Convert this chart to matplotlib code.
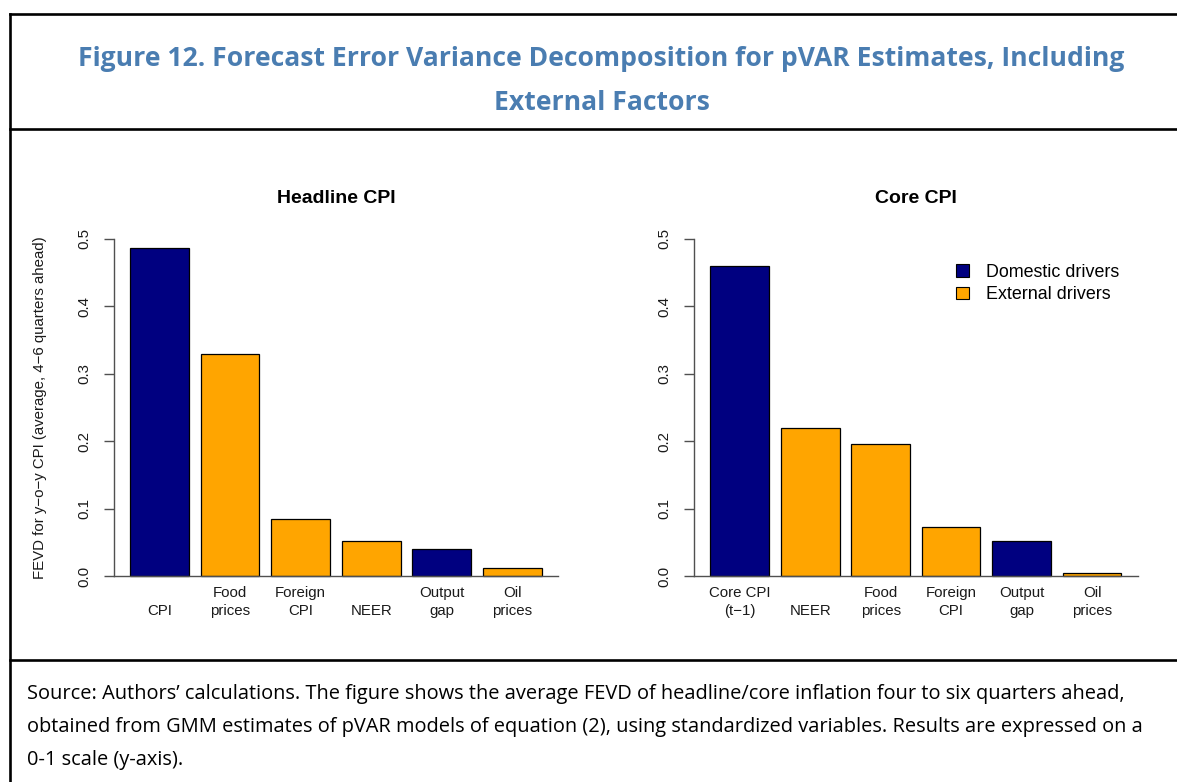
import matplotlib
matplotlib.use("Agg")
import matplotlib.pyplot as plt
from matplotlib.lines import Line2D
from matplotlib.patches import Patch

# data
headline_labels = ["CPI", "Food\nprices", "Foreign\nCPI", "NEER", "Output\ngap", "Oil\nprices"]
headline_values = [0.486, 0.330, 0.084, 0.052, 0.040, 0.012]
headline_domestic = [True, False, False, False, True, False]

core_labels = ["Core CPI\n(t\u22121)", "NEER", "Food\nprices", "Foreign\nCPI", "Output\ngap", "Oil\nprices"]
core_values = [0.460, 0.219, 0.196, 0.072, 0.052, 0.004]
core_domestic = [True, False, False, False, True, False]

yticks = [0.0, 0.1, 0.2, 0.3, 0.4, 0.5]

DOMESTIC = "#000080"
EXTERNAL = "#FFA500"
AXIS_COLOR = "#505050"
TEXT_COLOR = "#1a1a1a"
W, H = 1177, 782

fig = plt.figure(figsize=(W / 100, H / 100), dpi=100)
fig.patch.set_facecolor("white")


def px_box(x0, y0, x1, y1):
    # pixel box (from top-left) -> figure fraction rect
    return [x0 / W, 1 - y1 / H, (x1 - x0) / W, (y1 - y0) / H]


def draw_panel(ax, labels, values, domestic, title):
    centers = [0.7 + 1.2 * i for i in range(len(values))]
    colors = [DOMESTIC if d else EXTERNAL for d in domestic]
    ax.bar(centers, values, width=1.0, color=colors, edgecolor="black", linewidth=0.9, zorder=2)
    ax.set_xlim(-0.08, 7.48)
    ax.set_ylim(-0.02, 0.52)

    for s in ["top", "right"]:
        ax.spines[s].set_visible(False)
    ax.spines["left"].set_bounds(0, 0.5)
    ax.spines["left"].set_color(AXIS_COLOR)
    ax.spines["bottom"].set_position(("data", 0))
    ax.spines["bottom"].set_color(AXIS_COLOR)
    ax.spines["left"].set_linewidth(1.0)
    ax.spines["bottom"].set_linewidth(1.0)

    ax.set_yticks(yticks)
    ax.set_yticklabels([f"{v:.1f}" for v in yticks], rotation=90, va="center",
                       family="Liberation Sans", fontsize=10.8, color=TEXT_COLOR)
    ax.tick_params(axis="y", length=7.2, width=1.0, color=AXIS_COLOR, pad=9.0)

    ax.set_xticks(centers)
    ax.set_xticklabels(labels, va="bottom", family="Liberation Sans", fontsize=10.8,
                       color=TEXT_COLOR, linespacing=1.32)
    ax.tick_params(axis="x", length=0, pad=30)

    ax.set_title(title, family="Liberation Sans", fontweight="bold", fontsize=14, pad=16.5)


ax1 = fig.add_axes(px_box(113.6, 225.5, 558.2, 589.5))
ax2 = fig.add_axes(px_box(694.0, 225.5, 1137.8, 589.5))

draw_panel(ax1, headline_labels, headline_values, headline_domestic, "Headline CPI")
draw_panel(ax2, core_labels, core_values, core_domestic, "Core CPI")

ax1.set_ylabel("FEVD for y\u2212o\u2212y CPI (average, 4\u22126 quarters ahead)",
               family="Liberation Sans", fontsize=10.8, va="center", color=TEXT_COLOR)
ax1.yaxis.set_label_coords(-73.6 / 444.6, 0.5)

handles = [Patch(facecolor=DOMESTIC, edgecolor="black", linewidth=0.8),
           Patch(facecolor=EXTERNAL, edgecolor="black", linewidth=0.8)]
ax2.legend(handles, ["Domestic drivers", "External drivers"], loc="upper left",
           bbox_to_anchor=(0.590, 0.895), frameon=False, borderpad=0, borderaxespad=0,
           handlelength=0.75, handleheight=0.67, handletextpad=0.95, labelspacing=0.3,
           prop={"family": "Liberation Sans", "size": 12.9})

# frame of the exhibit box
frame_kw = dict(color="black", linewidth=1.9, transform=None)
for y in [14, 129, 660]:
    fig.add_artist(Line2D([10, W + 5], [H - y, H - y], **frame_kw))
fig.add_artist(Line2D([10, 10], [H - 14, -5], **frame_kw))

title_color = "#4A7DB1"
fig.text(601 / W, 1 - 66 / H,
         "Figure 12. Forecast Error Variance Decomposition for pVAR Estimates, Including",
         ha="center", va="baseline", family="Open Sans", fontweight="bold",
         fontsize=19.1, color=title_color)
fig.text(602 / W, 1 - 110 / H, "External Factors", ha="center", va="baseline",
         family="Open Sans", fontweight="bold", fontsize=19.1, color=title_color)

note_lines = [
    "Source: Authors\u2019 calculations. The figure shows the average FEVD of headline/core inflation four to six quarters ahead,",
    "obtained from GMM estimates of pVAR models of equation (2), using standardized variables. Results are expressed on a",
    "0-1 scale (y-axis).",
]
for i, line in enumerate(note_lines):
    fig.text(27 / W, 1 - (699 + 33 * i) / H, line, ha="left", va="baseline",
             family="Open Sans", fontsize=14.4, color="black")

fig.savefig("out.png", dpi=100)
